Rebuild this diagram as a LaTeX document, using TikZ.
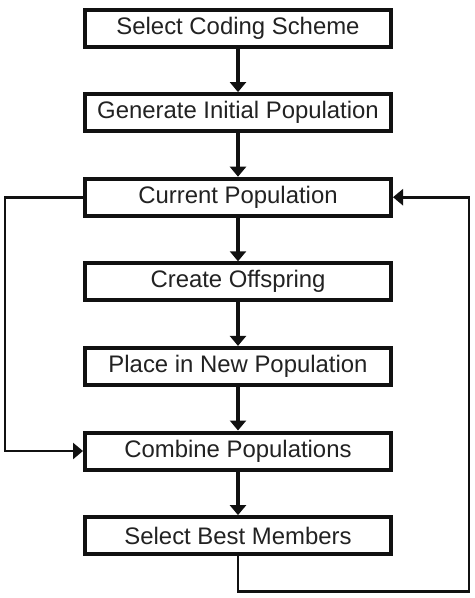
\documentclass[tikz,border=0pt]{standalone}
\usepackage{fontspec}
\setmainfont{Liberation Sans}
\usepackage{tikz}
\usetikzlibrary{arrows.meta, positioning}
\definecolor{inkdark}{HTML}{111111}
\definecolor{textgray}{HTML}{222222}

\tikzset{
  stagebox/.style={draw=inkdark, line width=0.1cm, fill=white, minimum width=7.65cm, minimum height=0.925cm,
    inner sep=0pt, text=textgray, font=\fontsize{17}{20}\selectfont},
  flowarrow/.style={inkdark, line width=0.08cm, -{Triangle[width=0.4cm, length=0.25cm]}},
  loopline/.style={inkdark, line width=0.07cm, -{Triangle[width=0.4cm, length=0.25cm]}}
}

\begin{document}
\begin{tikzpicture}[node distance=1.09cm]
  % Canvas
  \useasboundingbox (0,0) rectangle (11.85,-14.95);

  % Stages of the algorithm
  \node[stagebox] (select) at (5.95,-0.7) {Select Coding Scheme};
  \node[stagebox, below=of select] (generate) {Generate Initial Population};
  \node[stagebox, below=of generate] (current) {Current Population};
  \node[stagebox, below=of current] (offspring) {Create Offspring};
  \node[stagebox, below=of offspring] (place) {Place in New Population};
  \node[stagebox, below=of place] (combine) {Combine Populations};
  \node[stagebox, below=of combine] (best) {Select Best Members};

  % Main flow
  \draw[flowarrow] (select) -- (generate);
  \draw[flowarrow] (generate) -- (current);
  \draw[flowarrow] (current) -- (offspring);
  \draw[flowarrow] (offspring) -- (place);
  \draw[flowarrow] (place) -- (combine);
  \draw[flowarrow] (combine) -- (best);

  % Feedback loops
  \draw[loopline] (current.west) -- ++(-1.95,0) |- (combine.west);
  \draw[loopline] (best.south) -- ++(0,-0.88) -| ([xshift=1.9cm]current.east) -- (current.east);
\end{tikzpicture}
\end{document}
